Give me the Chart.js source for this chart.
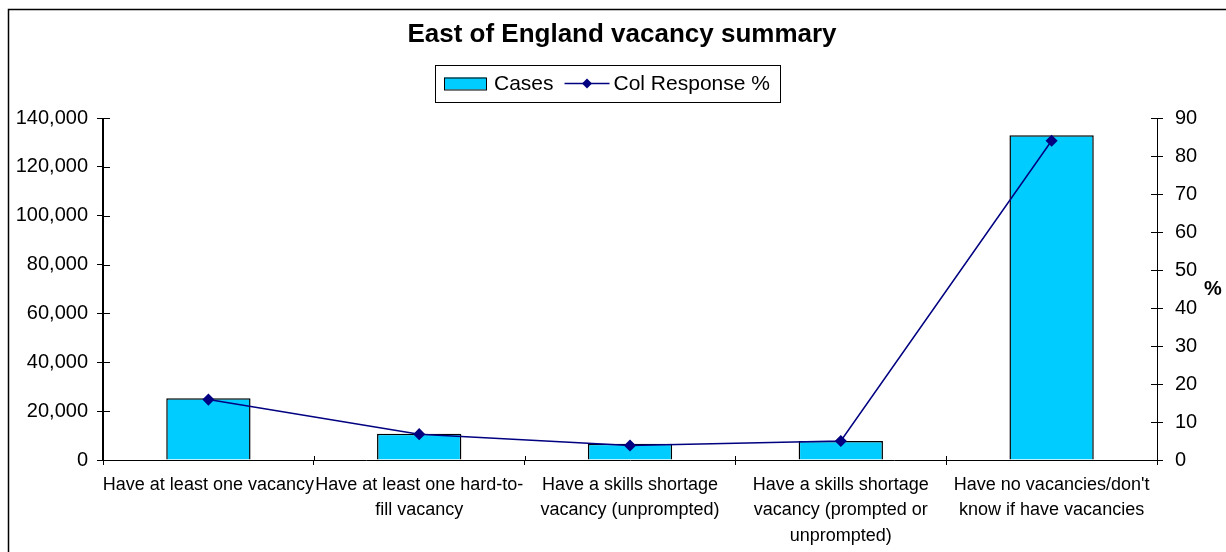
<!DOCTYPE html>
<html>
<head>
<meta charset="utf-8">
<title>East of England vacancy summary</title>
<script src="https://cdn.jsdelivr.net/npm/chart.js@4.4.1/dist/chart.umd.min.js"></script>
<style>
  html, body { margin: 0; padding: 0; background: #fff; }
  #wrap { width: 1226px; height: 552px; }
</style>
</head>
<body>
<div id="wrap"><canvas id="myChart" width="1226" height="552"></canvas></div>
<script>
'use strict'

// Data
const categories = [
  'Have at least one vacancy',
  ['Have at least one hard-to-', 'fill vacancy'],
  ['Have a skills shortage', 'vacancy (unprompted)'],
  ['Have a skills shortage', 'vacancy (prompted or', 'unprompted)'],
  ['Have no vacancies/don\'t', 'know if have vacancies']
];
const cases = [25300, 10700, 6700, 7800, 132900];
const colResponse = [15.9, 6.8, 3.8, 5.0, 84.0];

// axis ranges / tick steps
const casesMax = 140000;
const casesStep = 20000;
const pctMax = 90;
const pctStep = 10;

const chartTitle = 'East of England vacancy summary';
const fontName = '"Liberation Sans", Arial, sans-serif';
const titleCenterX = 622;
const legendCenterX = 607;

// both vertical axis lines, plus short tick stubs on the inside of each axis
// (Chart.js only draws the outer half of a tick mark)
const axisLines = {
  id: 'axisLines',
  afterDraw(chart) {
    const ctx = chart.ctx;
    const area = chart.chartArea;
    const x = chart.scales.x;
    const y = chart.scales.y;
    const y1 = chart.scales.y1;
    const leftX = Math.round(area.left);
    const rightX = Math.round(area.right);
    const top = Math.round(area.top);
    const bottom = Math.round(area.bottom);
    ctx.save();
    ctx.fillStyle = '#000';
    ctx.fillRect(leftX - 1, top, 1, bottom - top + 1);
    ctx.fillRect(rightX, top, 1, bottom - top + 1);
    y.ticks.forEach(t => {
      const py = Math.round(y.getPixelForValue(t.value));
      ctx.fillRect(leftX, py, 7, 1);
    });
    y1.ticks.forEach(t => {
      const py = Math.round(y1.getPixelForValue(t.value));
      ctx.fillRect(rightX - 6, py, 6, 1);
    });
    const n = x.ticks.length;
    for (let i = 1; i < n; i++) {
      const px = Math.round(x.left + i * x.width / n);
      ctx.fillRect(px, bottom - 4, 1, 4);
    }
    ctx.restore();
  }
};

// frame, title, legend box and the '%' label of the right axis
const decorations = {
  id: 'decorations',
  afterDraw(chart) {
    const ctx = chart.ctx;
    const area = chart.chartArea;
    const lineDs = chart.data.datasets[0];
    const barDs = chart.data.datasets[1];
    ctx.save();

    // outer frame, runs off the right and bottom edges
    ctx.strokeStyle = '#000';
    ctx.lineWidth = 1.5;
    ctx.strokeRect(8.5, 9.5, chart.width + 20, chart.height + 20);

    // title
    ctx.fillStyle = '#000';
    ctx.font = 'bold 26px ' + fontName;
    ctx.textAlign = 'center';
    ctx.textBaseline = 'middle';
    ctx.fillText(chartTitle, titleCenterX, 35);

    // legend
    ctx.font = '21px ' + fontName;
    ctx.textAlign = 'left';
    const w1 = ctx.measureText(barDs.label).width;
    const w2 = ctx.measureText(lineDs.label).width;
    const boxW = Math.round(9 + 42 + 8 + w1 + 11 + 45 + 4 + w2 + 10);
    let lx = Math.round(legendCenterX - boxW / 2);
    const top = 65;
    const h = 37;
    const cy = top + h / 2;
    ctx.lineWidth = 1;
    ctx.strokeRect(lx + 0.5, top + 0.5, boxW, h);

    lx += 9;
    ctx.fillStyle = barDs.backgroundColor;
    ctx.fillRect(lx, cy - 6, 42, 12);
    ctx.strokeStyle = barDs.borderColor;
    ctx.strokeRect(lx + 0.5, cy - 5.5, 42, 12);
    lx += 42 + 8;
    ctx.fillStyle = '#000';
    ctx.fillText(barDs.label, lx, cy + 1);
    lx += w1 + 11;

    ctx.strokeStyle = lineDs.borderColor;
    ctx.lineWidth = 1.5;
    ctx.beginPath();
    ctx.moveTo(lx, cy);
    ctx.lineTo(lx + 45, cy);
    ctx.stroke();
    ctx.fillStyle = lineDs.pointBackgroundColor;
    ctx.beginPath();
    ctx.moveTo(lx + 22.5, cy - 5);
    ctx.lineTo(lx + 27.5, cy);
    ctx.lineTo(lx + 22.5, cy + 5);
    ctx.lineTo(lx + 17.5, cy);
    ctx.closePath();
    ctx.fill();
    lx += 45 + 4;
    ctx.fillStyle = '#000';
    ctx.fillText(lineDs.label, lx, cy + 1);

    // right axis title
    ctx.font = 'bold 20px ' + fontName;
    ctx.textAlign = 'center';
    ctx.fillText('%', area.right + 56, (area.top + area.bottom) / 2);

    ctx.restore();
  }
};

const data = {
  labels: categories,
  datasets: [{
    type: 'line',
    label: 'Col Response %',
    data: colResponse,
    yAxisID: 'y1',
    borderColor: '#000080',
    borderWidth: 1.5,
    pointStyle: 'rectRot',
    pointRadius: 5,
    pointBackgroundColor: '#000080',
    pointBorderColor: '#000080',
    tension: 0,
    order: 0
  },
  {
    type: 'bar',
    label: 'Cases',
    data: cases,
    yAxisID: 'y',
    backgroundColor: '#00CCFF',
    borderColor: '#000000',
    borderWidth: 1.5,
    categoryPercentage: 0.4,
    barPercentage: 1,
    order: 1
  }]
};

const config = {
  type: 'bar',
  data: data,
  options: {
    responsive: false,
    animation: false,
    devicePixelRatio: 1,
    events: [],
    layout: {
      padding: { top: 118, left: 0, right: 0, bottom: 0 }
    },
    plugins: {
      legend: { display: false },
      title: { display: false },
      tooltip: { enabled: false }
    },
    scales: {
      x: {
        grid: { offset: true, drawOnChartArea: false, tickLength: 5, color: '#000' },
        border: { color: '#000', width: 1 },
        ticks: {
          color: '#000',
          font: { family: fontName, size: 18, lineHeight: 1.42 },
          maxRotation: 0,
          autoSkip: false,
          padding: 7
        },
        afterFit: s => { s.height = 92; }
      },
      y: {
        position: 'left',
        min: 0,
        max: casesMax,
        grid: { drawOnChartArea: false, tickLength: 6, color: '#000' },
        border: { color: '#000', width: 1 },
        ticks: {
          stepSize: casesStep,
          color: '#000',
          font: { family: fontName, size: 20 },
          padding: 9,
          callback: v => v.toLocaleString('en-US')
        },
        afterFit: s => { s.width = 103; }
      },
      y1: {
        position: 'right',
        min: 0,
        max: pctMax,
        grid: { drawOnChartArea: false, tickLength: 6, color: '#000' },
        border: { color: '#000', width: 1 },
        ticks: {
          stepSize: pctStep,
          color: '#000',
          font: { family: fontName, size: 20 },
          padding: 12
        },
        afterFit: s => { s.width = 69; }
      }
    }
  },
  plugins: [axisLines, decorations]
};

const myChart = new Chart(document.getElementById('myChart'), config);
</script>
</body>
</html>
